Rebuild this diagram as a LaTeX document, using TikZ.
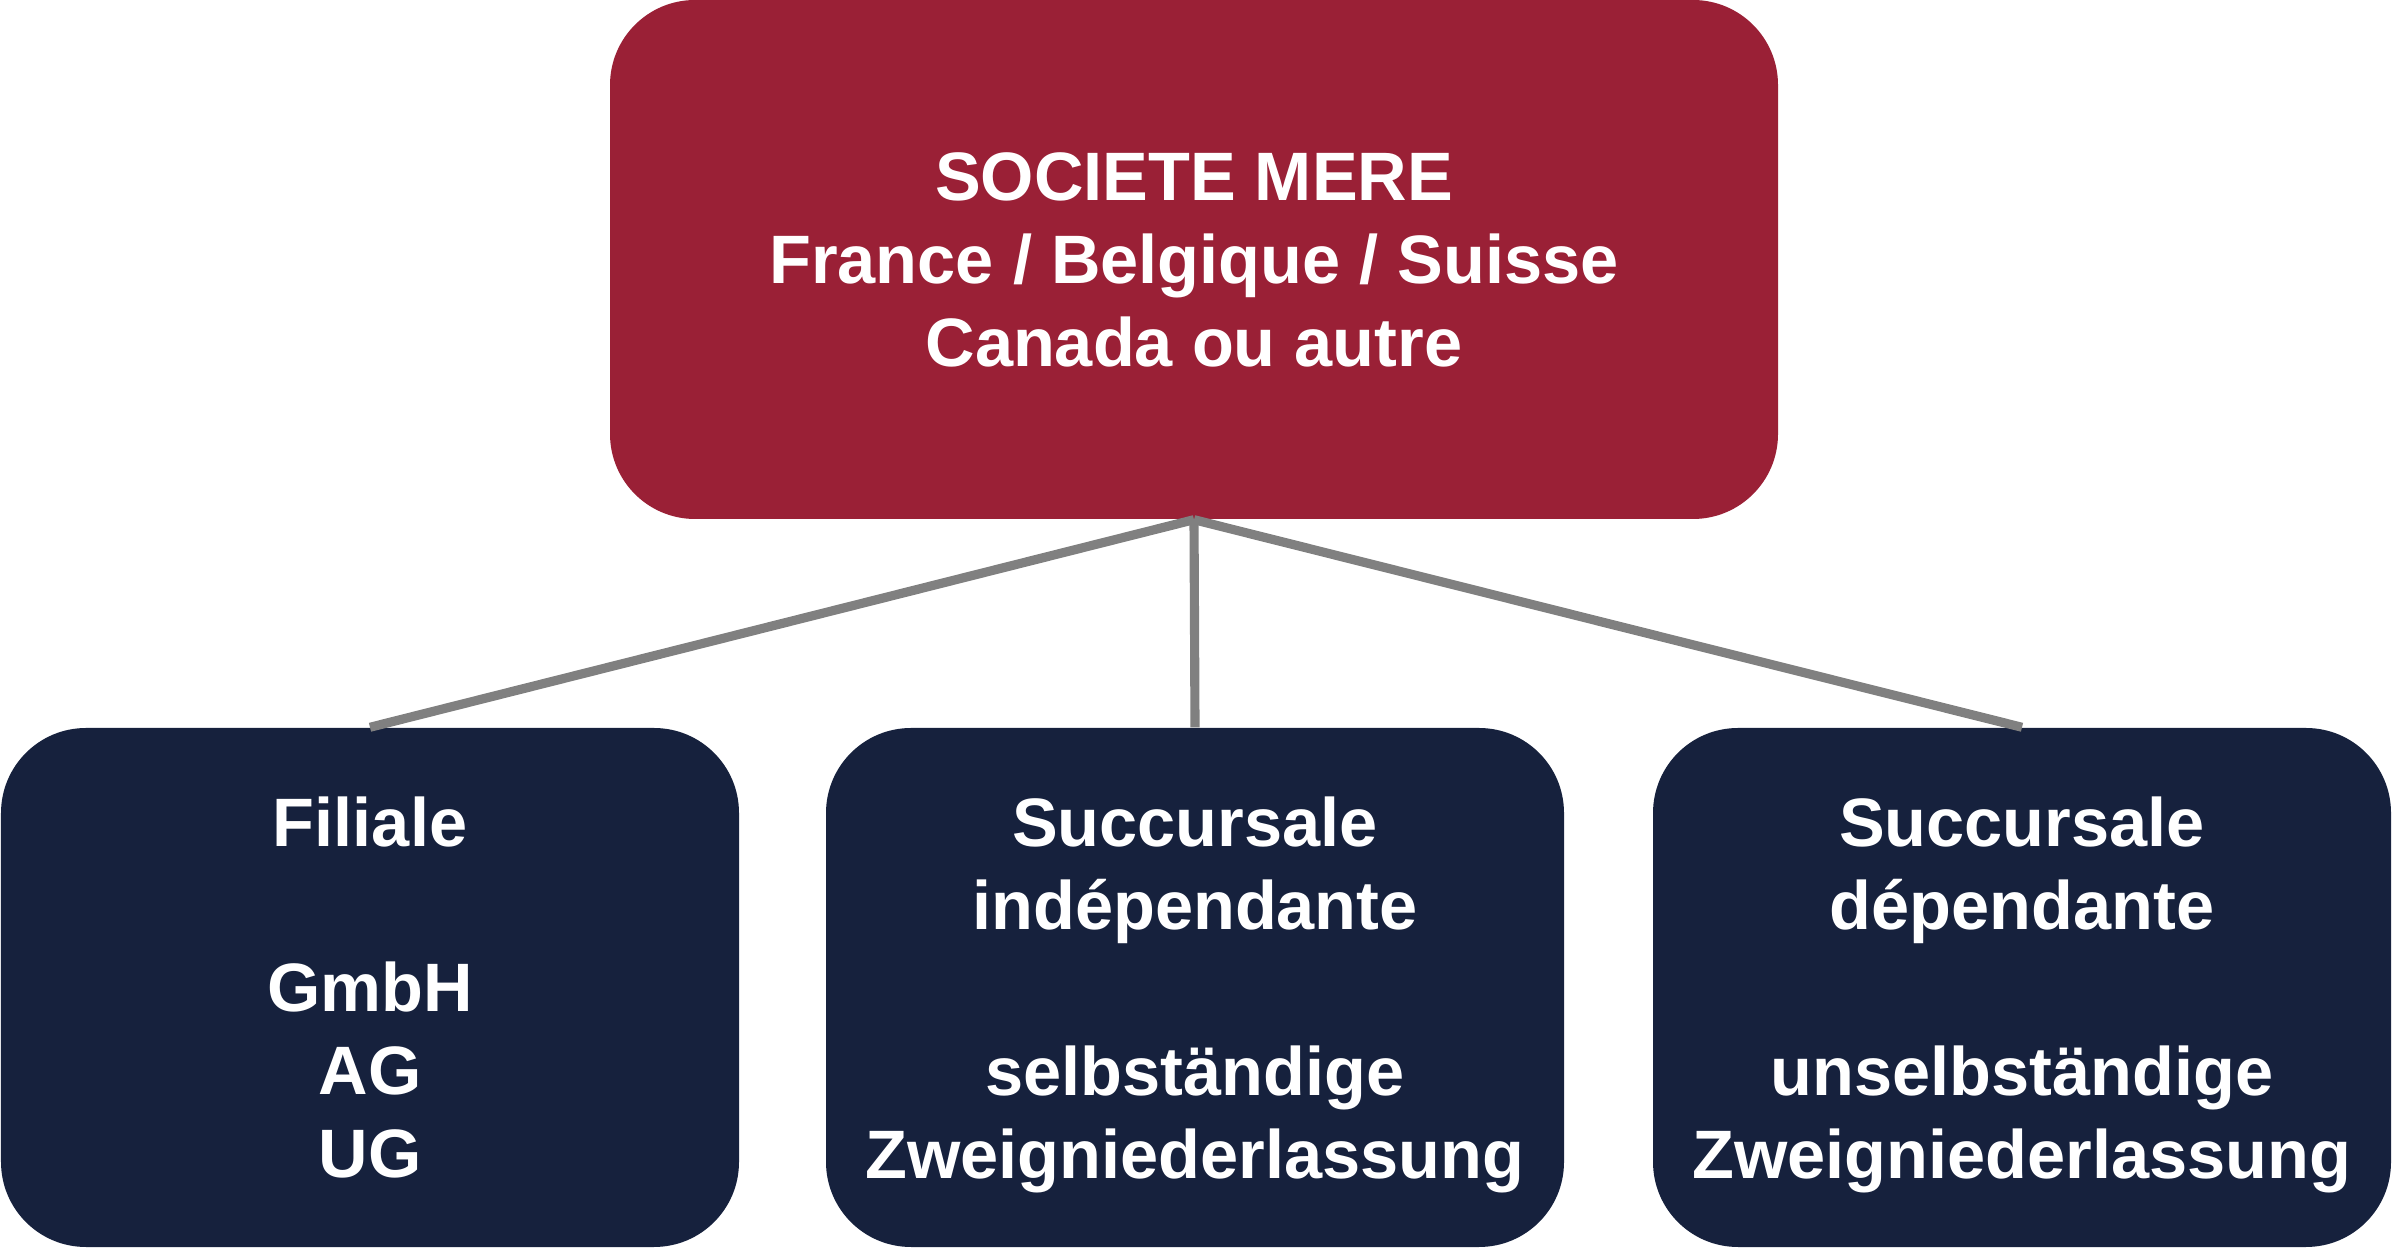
\documentclass[tikz,border=0pt]{standalone}
\usepackage{fontspec}
\setmainfont{Liberation Sans}
\usepackage{tikz}

\definecolor{mererouge}{RGB}{154,32,54}
\definecolor{filialebleu}{RGB}{22,33,61}

\begin{document}
\begin{tikzpicture}[
    box/.style={rounded corners=0.85cm, text=white, align=center,
        font=\fontsize{19.5}{23.6}\selectfont\bfseries, inner sep=0pt},
    mere/.style={box, fill=mererouge, minimum width=11.68cm, minimum height=5.19cm},
    tochter/.style={box, fill=filialebleu, minimum width=7.38cm, minimum height=5.19cm},
    lien/.style={draw=gray, line width=2.6pt}]
    \useasboundingbox (0,0) rectangle (23.93,12.47);
    \node[mere] (mere) at (11.94,9.875) {SOCIETE MERE\\France / Belgique / Suisse\\Canada ou autre};
    \node[tochter] (filiale) at (3.70,2.595) {Filiale\\[23.6pt]GmbH\\AG\\UG};
    \node[tochter] (indep) at (11.95,2.595) {Succursale\\ind\'ependante\\[23.6pt]selbst\"andige\\\smash{Zweigniederlassung}};
    \node[tochter] (dep) at (20.22,2.595) {Succursale\\d\'ependante\\[23.6pt]unselbst\"andige\\\smash{Zweigniederlassung}};
    \draw[lien] (mere.south) -- (filiale.north);
    \draw[lien] (mere.south) -- (indep.north);
    \draw[lien] (mere.south) -- (dep.north);
\end{tikzpicture}
\end{document}
